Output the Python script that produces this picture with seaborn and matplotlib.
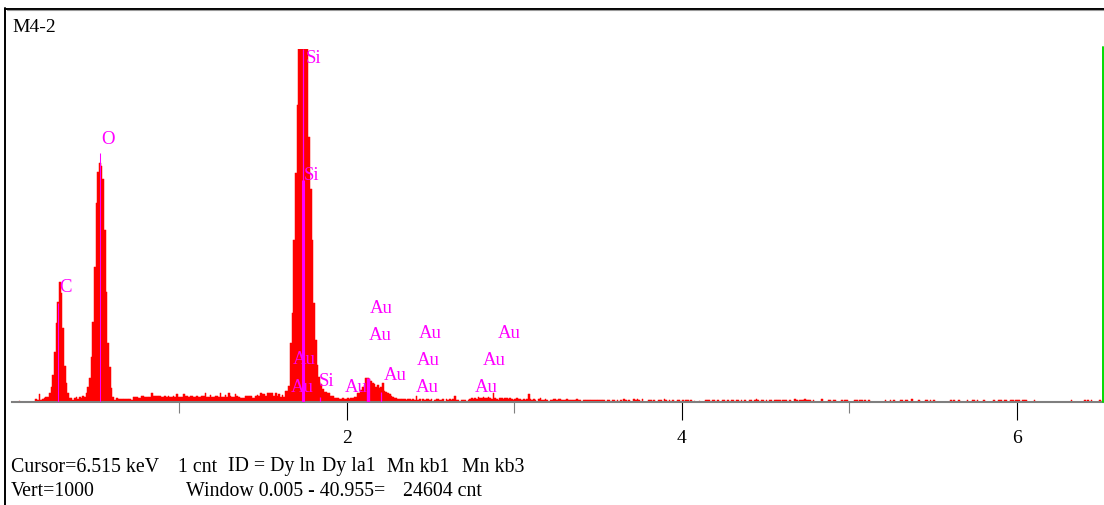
import numpy as np
import pandas as pd
import matplotlib
matplotlib.use("Agg")
import matplotlib.pyplot as plt
import seaborn as sns
from matplotlib.lines import Line2D

# ---------------- data ----------------
channel_kev = 0.01

seg_low_start = 0.00
seg_low_counts = [0, 0, 0, 0, 3, 0, 0, 0, 0, 0, 0, 0, 0, 0,
                  8, 6, 23, 6, 8, 11, 14, 14, 25, 42, 76, 142, 224, 283, 340, 309,
                  210, 102, 54, 25, 11, 11, 6, 11, 14, 8, 14, 11, 17,
                  14, 25, 42, 68, 127, 227, 382, 564, 652, 677, 669, 632, 487, 312,
                  167, 99, 40, 14, 6, 11, 8, 9,
                  9, 9, 9, 9, 9, 9, 6, 13, 13, 13, 11, 11, 17, 17, 13, 13, 13, 13,
                  25, 16, 16, 17, 17, 17, 13, 13, 17, 13, 17, 13, 13, 17, 13, 23, 13]

seg_mid_start = 1.00
seg_mid_counts = [13, 13, 23, 16, 16, 13, 17, 17, 13, 13, 17, 13, 13, 16, 16, 25,
                  13, 13, 21, 13, 13, 17, 17, 13, 25, 13, 13, 21, 13, 25, 16, 13,
                  13, 23, 17, 13, 10, 10, 10, 17, 17, 17, 17, 11, 11, 16, 21, 17,
                  26, 23, 23, 17, 26, 26, 26, 26, 16, 26, 16, 23, 13, 21, 13, 32,
                  32, 46]

seg_si_start = 1.66
seg_si_counts = [167, 252, 459, 649, 841, 1000, 1000, 1000, 1000, 1000, 1000,
                 751, 603, 459, 280, 176, 105, 71, 50, 36, 28, 28, 25, 25, 17,
                 17, 12, 12, 10, 9, 9, 10, 8, 9, 10, 9, 11, 12]

seg_au_start = 2.04
seg_au_counts = [15, 15, 25, 25, 34, 42, 48, 67, 67, 64, 60, 55, 51, 43, 48, 39,
                 42, 53, 31, 27, 25, 22, 17, 15, 12, 10, 9, 9, 8, 8]

seg_tail_start = 2.34
seg_tail_counts = [8, 6, 8, 8, 6, 8, 6, 18,
                   6, 8, 0, 8, 6, 8, 8, 6, 8, 0, 6, 8, 8, 6, 6, 8, 0, 8, 6, 8, 6, 8,
                   18, 6, 6, 0, 6, 6, 6, 0, 6,
                   9, 11, 9, 12, 9, 14, 11, 12, 15, 12, 11, 14, 12, 9, 25, 12,
                   8, 6, 11, 11, 8, 11, 11, 9, 10, 9, 6, 9, 10, 8, 9, 6, 8,
                   6, 8, 23, 8, 6, 8, 6, 0, 8, 10, 6, 6, 8, 6, 0, 6, 6,
                   9, 9, 6, 9, 9, 6, 6, 5, 9, 5, 6, 6, 5, 5, 9, 5, 6, 0, 5, 6,
                   5, 5, 6, 5, 5, 5, 5]

sparse_kev = [3.50, 3.51, 3.52, 3.53, 3.55, 3.56, 3.58, 3.59, 3.61, 3.63, 3.65,
              3.66, 3.68, 3.71, 3.72, 3.73, 3.74, 3.76, 3.80, 3.81, 3.83, 3.86,
              3.87, 3.89, 3.90, 3.92, 3.94, 3.97, 3.98, 4.00, 4.02, 4.03, 4.05,
              4.07, 4.10, 4.14, 4.15, 4.16, 4.18, 4.19, 4.21, 4.24, 4.25, 4.27,
              4.29, 4.30, 4.32, 4.33, 4.35, 4.37, 4.40, 4.41, 4.43, 4.44, 4.45,
              4.47, 4.48, 4.50, 4.52, 4.53, 4.55, 4.56, 4.57, 4.58, 4.60, 4.61,
              4.62, 4.64, 4.67, 4.68, 4.70, 4.71, 4.72, 4.73, 4.74, 4.75, 4.76,
              4.78, 4.83, 4.87, 4.88, 4.90, 4.91, 4.95, 4.97, 4.98, 5.03, 5.04,
              5.06, 5.07, 5.09, 5.11, 5.21, 5.24, 5.26, 5.30, 5.31, 5.33, 5.34,
              5.37, 5.41, 5.45, 5.46, 5.48, 5.50, 5.60, 5.62, 5.65, 5.70, 5.73,
              5.74, 5.76, 5.80, 5.86, 5.89, 5.90, 5.92, 5.93, 5.96, 5.97, 5.99,
              6.00, 6.01, 6.03, 6.04, 6.05, 6.10, 6.32, 6.40, 6.42, 6.44, 6.49]
sparse_counts = [5, 5, 5, 5, 5, 5, 5, 5, 5, 5, 8,
                 5, 5, 9, 5, 9, 5, 9, 5, 5, 5, 5,
                 5, 9, 5, 5, 5, 5, 5, 5, 5, 5, 5,
                 3, 3, 5, 5, 5, 5, 5, 5, 5, 5, 5,
                 5, 5, 5, 5, 5, 5, 5, 5, 5, 9, 5,
                 5, 5, 5, 5, 5, 5, 5, 5, 5, 5, 5,
                 5, 5, 9, 5, 5, 5, 5, 9, 5, 5, 5,
                 5, 9, 5, 5, 5, 5, 5, 5, 5, 5, 5,
                 5, 5, 5, 5, 5, 5, 5, 5, 5, 5, 5,
                 9, 5, 5, 5, 5, 5, 5, 5, 5, 5, 5,
                 5, 5, 5, 5, 5, 5, 5, 5, 5, 5, 5,
                 5, 5, 5, 5, 5, 5, 5, 5, 5, 5, 5]

# KLM marker lines (keV, top in counts)
marker_kev = [0.277, 0.525, 1.740, 1.737, 1.836, 2.123, 2.205]
marker_top = [280, 705, 1000, 629, 13, 68, 29]

# element labels
label_text = ["C", "O", "Si", "Si", "Au", "Au", "Si", "Au", "Au", "Au", "Au",
              "Au", "Au", "Au", "Au", "Au", "Au"]
label_kev = [0.322, 0.573, 1.801, 1.788, 1.746, 1.734, 1.881, 2.058, 2.207,
             2.197, 2.288, 2.499, 2.488, 2.479, 2.970, 2.879, 2.831]
label_cnt = [323, 744, 972, 641, 119, 42, 58, 42, 264, 188, 75, 194, 118, 41,
             194, 118, 41]

cursor_kev = 6.515
cursor_top = 1006
x_max_kev = 6.52
vert_full = 1000
major_ticks = [2, 4, 6]
minor_ticks = [1, 3, 5]

title_text = "M4-2"
status_line1 = ["Cursor=6.515 keV", "1 cnt", "ID = Dy ln", "Dy la1", "Mn kb1", "Mn kb3"]
status_line2 = ["Vert=1000", "Window 0.005 - 40.955=", "24604 cnt"]

# ---------------- build table ----------------
rows_kev, rows_cnt = [], []
for start, seg in [(seg_low_start, seg_low_counts), (seg_mid_start, seg_mid_counts),
                   (seg_si_start, seg_si_counts), (seg_au_start, seg_au_counts),
                   (seg_tail_start, seg_tail_counts)]:
    for i, c in enumerate(seg):
        rows_kev.append(start + i * channel_kev + channel_kev / 2)
        rows_cnt.append(c)
for k, c in zip(sparse_kev, sparse_counts):
    rows_kev.append(k + channel_kev / 2)
    rows_cnt.append(c)
df = pd.DataFrame({"kev": rows_kev, "counts": rows_cnt})

# ---------------- figure ----------------
sns.set_theme(style="white")
plt.rcParams["font.family"] = ["Liberation Serif", "DejaVu Serif"]

W, H = 1104, 505
fig = plt.figure(figsize=(W / 100, H / 100), dpi=100)
fig.patch.set_facecolor("white")
ax = fig.add_axes([12 / W, (H - 402) / H, (W - 12) / W, (402 - 49) / H])
ax.set_facecolor("white")

sns.histplot(data=df, x="kev", weights="counts", binwidth=channel_kev,
             binrange=(0, x_max_kev), color="#ff0000", alpha=1.0,
             edgecolor="#ff0000", linewidth=0.35, element="bars", ax=ax)

ax.vlines(marker_kev, 0, marker_top, colors="#ff00ff",
          linewidths=[0.75, 0.75, 0.9, 2.2, 0.9, 2.4, 0.9], zorder=3)

for t, k, c in zip(label_text, label_kev, label_cnt):
    ax.text(k, c, t, color="#ff00ff", fontsize=13.5, ha="center", va="center",
            zorder=4, clip_on=False)

ax.plot([cursor_kev, cursor_kev], [0, cursor_top], color="#00dd00", lw=1.4,
        clip_on=False, zorder=5)

ax.set_xlim(0, x_max_kev)
ax.set_ylim(0, vert_full)
ax.set_xlabel("")
ax.set_ylabel("")
ax.set_yticks([])
for s in ["top", "right", "left"]:
    ax.spines[s].set_visible(False)
ax.spines["bottom"].set_color("#7f7f7f")
ax.spines["bottom"].set_linewidth(1.5)
ax.spines["bottom"].set_zorder(2.6)

ax.set_xticks(major_ticks)
ax.set_xticklabels([str(t) for t in major_ticks], fontsize=14)
ax.set_xticks(minor_ticks, minor=True)
ax.tick_params(axis="x", which="major", direction="out", length=13, width=0.8,
               color="black", pad=7, labelcolor="black", bottom=True)
ax.tick_params(axis="x", which="minor", direction="out", length=8, width=0.8,
               color="#7f7f7f", bottom=True)

# frame lines
fig.add_artist(Line2D([5.5 / W, 5.5 / W], [0, 1 - 8 / H], transform=fig.transFigure,
                      color="black", lw=1.4))
fig.add_artist(Line2D([5 / W, 1], [1 - 8.5 / H, 1 - 8.5 / H], transform=fig.transFigure,
                      color="black", lw=1.4))
fig.add_artist(Line2D([6.5 / W, 1], [1 - 10 / H, 1 - 10 / H], transform=fig.transFigure,
                      color="#9a9a9a", lw=0.8))

fig.text(12 / W, 1 - 27 / H, title_text, fontsize=14, ha="left", va="center", color="black")

line1_x = [11, 178, 228, 322, 387, 462]
for t, x in zip(status_line1, line1_x):
    fig.text(x / W, 1 - 467 / H, t, fontsize=14.3, ha="left", va="center", color="black")
line2_x = [11, 186, 403]
for t, x in zip(status_line2, line2_x):
    fig.text(x / W, 1 - 492 / H, t, fontsize=14.3, ha="left", va="center", color="black")

fig.savefig("out.png", dpi=100, facecolor="white")
